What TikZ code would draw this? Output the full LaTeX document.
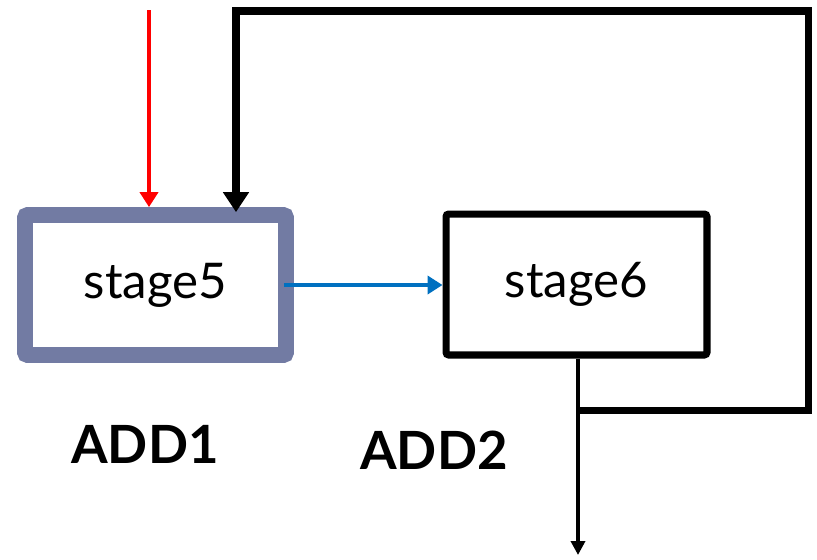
\documentclass[tikz,border=0pt]{standalone}
\usepackage{fontspec}
\setmainfont{Lato}
\usetikzlibrary{arrows.meta, positioning}
\definecolor{grisazul}{HTML}{727BA3}
\definecolor{azulflecha}{HTML}{0070C0}
\definecolor{rojoflecha}{HTML}{FF0000}
\tikzset{
  cajaEtapa/.style={
    draw=black, line width=4pt, rounded corners=1.5pt,
    minimum width=5.22cm, minimum height=2.82cm,
    align=center, font=\fontsize{28}{33}\selectfont, fill=white
  },
  cajaActiva/.style={cajaEtapa, draw=grisazul, line width=9pt, minimum height=2.8cm},
  etiquetaSuma/.style={font=\fontsize{30}{35}\selectfont\bfseries},
  flechaRoja/.style={-{Triangle[length=0.3cm, width=0.36cm]}, line width=2.6pt, rojoflecha},
  flechaAzul/.style={-{Triangle[length=0.3cm, width=0.36cm]}, line width=2.6pt, azulflecha},
  flechaLazo/.style={-{Triangle[length=0.4cm, width=0.5cm]}, line width=4pt, black},
  flechaSalida/.style={-{Triangle[length=0.28cm, width=0.28cm]}, line width=2pt, black},
}
\begin{document}
\begin{tikzpicture}[x=0.02cm, y=-0.02cm]
    \useasboundingbox (0,0) rectangle (817,559);
    \node[cajaActiva] (s5) at (155.5,285) {stage5};
    \node[cajaEtapa] (s6) at (576.5,284.5) {stage6};
    \node[etiquetaSuma] (add1) at (145,444) {ADD1};
    \node[etiquetaSuma] (add2) at (434,450) {ADD2};
    \coordinate (entrada) at (149,10);
    \coordinate (toma) at (578,410);
    \coordinate (arriba) at (236,11);
    \coordinate (salida) at (578,555);
    % entrada y paso entre etapas
    \draw[flechaRoja] (entrada) -- (entrada |- s5.north);
    \draw[flechaAzul] ([xshift=-0.2cm]s5.east) -- (s5.east -| s6.west);
    % realimentacion de la salida
    \draw[flechaSalida] (s6.south -| salida) -- (salida);
    \draw[flechaLazo] (toma) -- (808,410) |- (arriba) -- ([yshift=-0.1cm]arriba |- s5.north);
  \end{tikzpicture}
\end{document}
